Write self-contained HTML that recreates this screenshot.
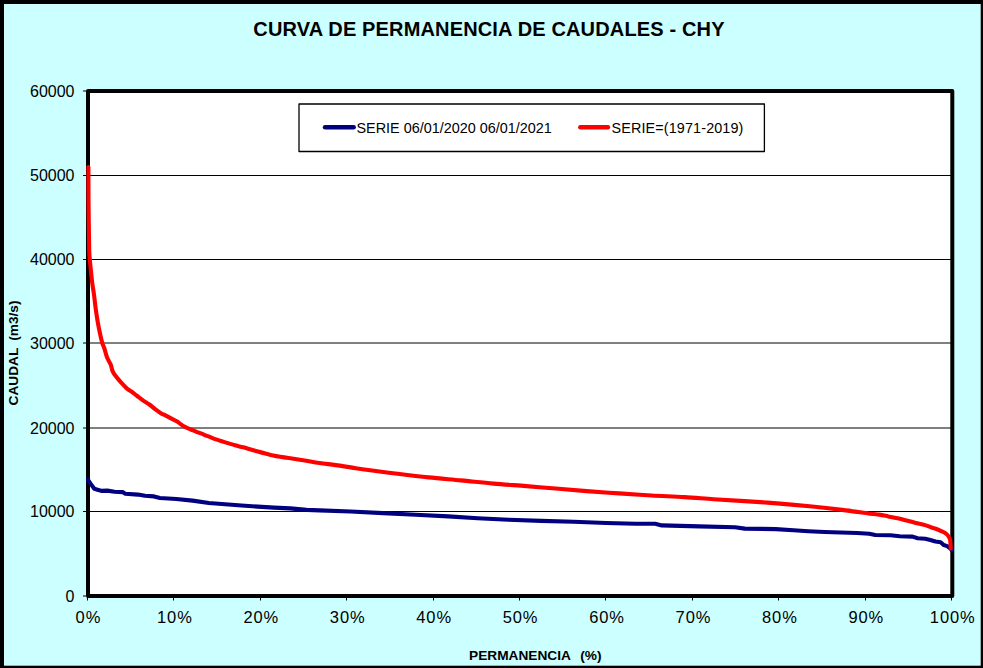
<!DOCTYPE html>
<html><head><meta charset="utf-8"><style>
html,body{margin:0;padding:0;background:#fff;width:983px;height:668px;overflow:hidden}
svg{display:block}
text{font-family:"Liberation Sans",sans-serif;fill:#000}
.ax{font-size:16px}
.xl{font-size:16.5px;letter-spacing:0.9px}
.lg{font-size:14.4px}
.tt{font-size:20px;font-weight:bold;letter-spacing:0.15px}
.at{font-size:13.7px;font-weight:bold}
</style></head><body>
<svg width="983" height="668" viewBox="0 0 983 668">
<rect x="0" y="0" width="983" height="668" fill="#000"/>
<rect x="4" y="4" width="976.7" height="661.7" fill="#CCFFFF"/>
<rect x="88" y="91" width="864.3" height="505" fill="#fff"/>
<line x1="88" y1="175.5" x2="952.3" y2="175.5" stroke="#000" stroke-width="1"/>
<line x1="88" y1="259.5" x2="952.3" y2="259.5" stroke="#000" stroke-width="1"/>
<line x1="88" y1="343" x2="952.3" y2="343" stroke="#000" stroke-width="1"/>
<line x1="88" y1="428" x2="952.3" y2="428" stroke="#000" stroke-width="1"/>
<line x1="88" y1="511.5" x2="952.3" y2="511.5" stroke="#000" stroke-width="1"/>
<line x1="83" y1="91" x2="88" y2="91" stroke="#000" stroke-width="1"/>
<line x1="83" y1="175.5" x2="88" y2="175.5" stroke="#000" stroke-width="1"/>
<line x1="83" y1="259.5" x2="88" y2="259.5" stroke="#000" stroke-width="1"/>
<line x1="83" y1="343" x2="88" y2="343" stroke="#000" stroke-width="1"/>
<line x1="83" y1="428" x2="88" y2="428" stroke="#000" stroke-width="1"/>
<line x1="83" y1="511.5" x2="88" y2="511.5" stroke="#000" stroke-width="1"/>
<line x1="83" y1="596" x2="88" y2="596" stroke="#000" stroke-width="1"/>
<line x1="87.5" y1="596" x2="87.5" y2="600.5" stroke="#000" stroke-width="1"/>
<line x1="173.5" y1="596" x2="173.5" y2="600.5" stroke="#000" stroke-width="1"/>
<line x1="260.5" y1="596" x2="260.5" y2="600.5" stroke="#000" stroke-width="1"/>
<line x1="346.5" y1="596" x2="346.5" y2="600.5" stroke="#000" stroke-width="1"/>
<line x1="433.5" y1="596" x2="433.5" y2="600.5" stroke="#000" stroke-width="1"/>
<line x1="519.5" y1="596" x2="519.5" y2="600.5" stroke="#000" stroke-width="1"/>
<line x1="605.5" y1="596" x2="605.5" y2="600.5" stroke="#000" stroke-width="1"/>
<line x1="692.5" y1="596" x2="692.5" y2="600.5" stroke="#000" stroke-width="1"/>
<line x1="778.5" y1="596" x2="778.5" y2="600.5" stroke="#000" stroke-width="1"/>
<line x1="865.5" y1="596" x2="865.5" y2="600.5" stroke="#000" stroke-width="1"/>
<line x1="951.5" y1="596" x2="951.5" y2="600.5" stroke="#000" stroke-width="1"/>
<rect x="88" y="91" width="864.3" height="505" fill="none" stroke="#000" stroke-width="4" stroke-linejoin="round"/>
<polyline points="88,479.8 90.7,483.9 94.3,488.8 97.5,489.7 102,490.9 107.3,490.6 114.5,491.7 122.6,492.1 125.3,493.7 137.9,494.6 145,495.8 154,496.4 160,498 176.3,499 192.6,500.6 208.9,503 225.1,504.3 241.4,505.5 257.7,506.6 274,507.6 290.3,508.4 306.6,509.9 319.6,510.4 350.6,511.5 383.1,513.1 415.7,514.7 448.3,516.4 477.6,518.3 508.6,519.7 541.1,520.9 573.7,521.7 606.3,523 635.6,523.8 655.2,523.8 661.7,525.4 699.1,526.4 735,527.2 744.7,528.6 775.7,529.1 793.6,530.3 808.3,531.2 824.6,532 857.1,533 869.2,533.7 875.3,535 890.5,535.3 899.7,536.2 912.6,536.6 917.7,538.2 925.3,538.7 930.4,540 935.5,541.5 940.6,542.2 943.7,545 947.2,546.1 950.8,548.9 951.8,550.4" fill="none" stroke="#000080" stroke-width="4.1" stroke-linejoin="round" stroke-linecap="round"/>
<path d="M88.4,167 C88.42,172.50 88.43,190.33 88.5,200 C88.57,209.67 88.70,217.83 88.8,225 C88.90,232.17 89.00,238.00 89.1,243 C89.20,248.00 89.13,250.75 89.4,255 C89.67,259.25 90.25,264.02 90.7,268.5 C91.15,272.98 91.53,277.42 92.1,281.9 C92.67,286.38 93.50,290.92 94.1,295.4 C94.70,299.88 95.08,304.32 95.7,308.8 C96.32,313.28 97.00,317.80 97.8,322.3 C98.60,326.80 99.75,332.33 100.5,335.8 C101.25,339.27 101.65,340.98 102.3,343.1 C102.95,345.22 103.60,346.10 104.4,348.5 C105.20,350.90 106.05,354.82 107.1,357.5 C108.15,360.18 109.80,362.37 110.7,364.6 C111.60,366.83 111.75,369.10 112.5,370.9 C113.25,372.70 114.15,373.90 115.2,375.4 C116.25,376.90 117.52,378.40 118.8,379.9 C120.08,381.40 121.48,382.90 122.9,384.4 C124.32,385.90 125.67,387.55 127.3,388.9 C128.93,390.25 131.05,391.32 132.7,392.5 C134.35,393.68 135.43,394.65 137.2,396 C138.97,397.35 141.27,399.18 143.3,400.6 C145.33,402.02 147.37,403.03 149.4,404.5 C151.43,405.97 153.47,407.87 155.5,409.4 C157.53,410.93 160.02,412.75 161.6,413.7 C163.18,414.65 163.42,414.32 165,415.1 C166.58,415.88 169.07,417.33 171.1,418.4 C173.13,419.47 175.17,420.22 177.2,421.5 C179.23,422.78 181.27,424.88 183.3,426.1 C185.33,427.32 187.37,427.93 189.4,428.8 C191.43,429.67 193.47,430.48 195.5,431.3 C197.53,432.12 199.57,432.90 201.6,433.7 C203.63,434.50 205.67,435.28 207.7,436.1 C209.73,436.92 211.25,437.68 213.8,438.6 C216.35,439.52 219.45,440.48 223,441.6 C226.55,442.72 231.73,444.35 235.1,445.3 C238.47,446.25 240.00,446.43 243.2,447.3 C246.40,448.17 249.73,449.23 254.3,450.5 C258.87,451.77 265.17,453.68 270.6,454.9 C276.03,456.12 281.48,456.92 286.9,457.8 C292.32,458.68 297.68,459.33 303.1,460.2 C308.52,461.07 313.97,462.18 319.4,463 C324.83,463.82 330.27,464.33 335.7,465.1 C341.13,465.87 346.57,466.78 352,467.6 C357.43,468.42 360.70,468.97 368.3,470 C375.90,471.03 387.55,472.57 397.6,473.8 C407.65,475.03 418.02,476.30 428.6,477.4 C439.18,478.50 450.25,479.37 461.1,480.4 C471.95,481.43 482.83,482.65 493.7,483.6 C504.57,484.55 515.98,485.28 526.3,486.1 C536.62,486.92 545.55,487.67 555.6,488.5 C565.65,489.33 576.02,490.28 586.6,491.1 C597.18,491.92 608.25,492.67 619.1,493.4 C629.95,494.13 640.83,494.88 651.7,495.5 C662.57,496.12 673.98,496.48 684.3,497.1 C694.62,497.72 703.55,498.53 713.6,499.2 C723.65,499.87 734.02,500.40 744.6,501.1 C755.18,501.80 766.25,502.53 777.1,503.4 C787.95,504.27 798.83,505.22 809.7,506.3 C820.57,507.38 832.25,508.67 842.3,509.9 C852.35,511.13 863.85,512.92 870,513.7 C876.15,514.48 876.15,514.15 879.2,514.6 C882.25,515.05 885.25,515.78 888.3,516.4 C891.35,517.02 894.45,517.60 897.5,518.3 C900.55,519.00 903.55,519.83 906.6,520.6 C909.65,521.37 912.73,522.15 915.8,522.9 C918.87,523.65 922.47,524.37 925,525.1 C927.53,525.83 929.00,526.62 931,527.3 C933.00,527.98 935.40,528.62 937,529.2 C938.60,529.78 939.15,530.12 940.6,530.8 C942.05,531.48 944.30,532.27 945.7,533.3 C947.10,534.33 948.23,535.72 949,537 C949.77,538.28 950.02,539.08 950.3,541 C950.58,542.92 950.63,547.25 950.7,548.5" fill="none" stroke="#FF0000" stroke-width="4.1" stroke-linejoin="round" stroke-linecap="round"/>
<text x="74.5" y="96.7" text-anchor="end" class="ax">60000</text>
<text x="74.5" y="181.2" text-anchor="end" class="ax">50000</text>
<text x="74.5" y="265.2" text-anchor="end" class="ax">40000</text>
<text x="74.5" y="348.7" text-anchor="end" class="ax">30000</text>
<text x="74.5" y="433.7" text-anchor="end" class="ax">20000</text>
<text x="74.5" y="517.2" text-anchor="end" class="ax">10000</text>
<text x="74.5" y="601.7" text-anchor="end" class="ax">0</text>
<text x="88.45" y="622.7" text-anchor="middle" class="xl">0%</text>
<text x="174.88" y="622.7" text-anchor="middle" class="xl">10%</text>
<text x="261.31" y="622.7" text-anchor="middle" class="xl">20%</text>
<text x="347.74" y="622.7" text-anchor="middle" class="xl">30%</text>
<text x="434.17" y="622.7" text-anchor="middle" class="xl">40%</text>
<text x="520.60" y="622.7" text-anchor="middle" class="xl">50%</text>
<text x="607.03" y="622.7" text-anchor="middle" class="xl">60%</text>
<text x="693.46" y="622.7" text-anchor="middle" class="xl">70%</text>
<text x="779.89" y="622.7" text-anchor="middle" class="xl">80%</text>
<text x="866.32" y="622.7" text-anchor="middle" class="xl">90%</text>
<text x="952.75" y="622.7" text-anchor="middle" class="xl">100%</text>
<rect x="299" y="104" width="465.4" height="47.5" fill="#fff" stroke="#000" stroke-width="1.3" stroke-linejoin="round"/>
<line x1="325" y1="127.3" x2="353.7" y2="127.3" stroke="#000080" stroke-width="4.4" stroke-linecap="round"/>
<text x="356.5" y="132.9" class="lg">SERIE 06/01/2020 06/01/2021</text>
<line x1="580.3" y1="127.3" x2="608" y2="127.3" stroke="#FF0000" stroke-width="4.4" stroke-linecap="round"/>
<text x="611.5" y="132.9" class="lg" style="letter-spacing:0.12px">SERIE=(1971-2019)</text>
<text x="489" y="36" text-anchor="middle" class="tt">CURVA DE PERMANENCIA DE CAUDALES - CHY</text>
<text x="469" y="659.9" class="at">PERMANENCIA</text>
<text x="580.3" y="659.9" class="at">(%)</text>
<text transform="translate(18.4,405.5) rotate(-90)" class="at">CAUDAL</text>
<text transform="translate(18.4,340.8) rotate(-90)" class="at">(m3/s)</text>
</svg>
</body></html>
